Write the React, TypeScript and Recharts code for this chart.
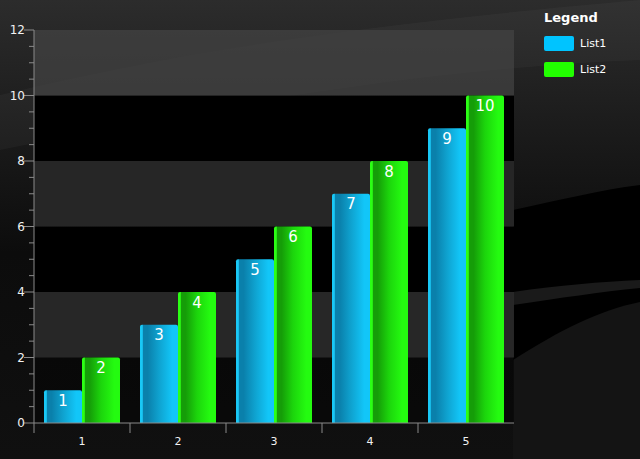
import React from 'react';
import { BarChart, Bar, XAxis, YAxis, ReferenceArea, LabelList } from 'recharts';

const categories = ['1', '2', '3', '4', '5'];
const list1 = [1, 3, 5, 7, 9];
const list2 = [2, 4, 6, 8, 10];
const yTicks = [0, 0.5, 1, 1.5, 2, 2.5, 3, 3.5, 4, 4.5, 5, 5.5, 6, 6.5, 7, 7.5, 8, 8.5, 9, 9.5, 10, 10.5, 11, 11.5, 12];
const bands = [
  { from: 0, to: 2, fill: '#050505', opacity: 0.6 },
  { from: 2, to: 4, fill: '#2a2a2a', opacity: 0.9 },
  { from: 4, to: 6, fill: '#000000', opacity: 1 },
  { from: 6, to: 8, fill: '#262626', opacity: 1 },
  { from: 8, to: 10, fill: '#000000', opacity: 1 },
  { from: 10, to: 12, fill: '#454545', opacity: 0.7 },
];
const seriesInfo = [
  { key: 'list1', name: 'List1', color: '#00c4ff', grad: 'blueCyl' },
  { key: 'list2', name: 'List2', color: '#22ff00', grad: 'greenCyl' },
];

const data = categories.map((c, i) => ({ name: c, list1: list1[i], list2: list2[i] }));

const W = 640;
const H = 459;
const MARGIN = { top: 30, right: 126, bottom: 0, left: 0 };
const Y_WIDTH = 34;
const X_HEIGHT = 36;
const bandWidth = (W - MARGIN.right - Y_WIDTH) / categories.length;
const FONT = '"DejaVu Sans", Verdana, sans-serif';

const YTick = (props: any) => {
  const { x, y, payload } = props;
  const major = payload.value % 2 === 0;
  return (
    <g>
      <line x1={x - (major ? 10 : 5)} x2={x} y1={y} y2={y} stroke="#8a8a8a" strokeWidth={1} />
      {major && (
        <text x={x - 9} y={y} dy={4} textAnchor="end" fill="#f2f2f2" fontSize={12} fontFamily={FONT}>
          {payload.value}
        </text>
      )}
    </g>
  );
};

const XTick = (props: any) => {
  const { x, y, payload } = props;
  return (
    <g>
      <line x1={x - bandWidth / 2} x2={x - bandWidth / 2} y1={y} y2={y + 10} stroke="#8a8a8a" />
      <text x={x} y={y + 22} textAnchor="middle" fill="#f2f2f2" fontSize={11} fontFamily={FONT}>
        {payload.value}
      </text>
    </g>
  );
};

const CylGrad = ({ id, light, mid, dark, edge }: { id: string; light: string; mid: string; dark: string; edge: string }) => (
  <linearGradient id={id} x1="0" y1="0" x2="1" y2="0">
    <stop offset="0%" stopColor={edge} />
    <stop offset="6%" stopColor={edge} />
    <stop offset="9%" stopColor={dark} />
    <stop offset="20%" stopColor={dark} />
    <stop offset="50%" stopColor={mid} />
    <stop offset="85%" stopColor={light} />
    <stop offset="100%" stopColor={light} />
  </linearGradient>
);

export default function App() {
  return (
    <div style={{ position: 'absolute', left: 0, top: 0, width: W, height: H, overflow: 'hidden', background: 'linear-gradient(180deg, #2c2c2c 0%, #1d1d1d 25%, #0c0c0c 55%, #101010 100%)' }}>
      <svg width={W} height={H} style={{ position: 'absolute', left: 0, top: 0 }}>
        <path d="M0,95 C150,60 300,30 640,0 L640,60 C400,70 200,110 0,150 Z" fill="#ffffff" opacity={0.03} />
        <path d="M513,210 C560,200 600,190 640,185 L640,459 L513,459 Z" fill="#000000" />
        <path d="M513,292 C560,285 600,282 640,280 L640,288 C600,292 560,298 513,305 Z" fill="#1a1a1a" />
        <path d="M513,360 C560,330 600,310 640,302 L640,459 L513,459 Z" fill="#141414" />
      </svg>
      <div style={{ position: 'absolute', left: 0, top: 0 }}>
        <BarChart width={W} height={H} data={data} margin={MARGIN} barCategoryGap={10} barGap={0}>
          <defs>
            <CylGrad id="blueCyl" edge="#19c8f6" dark="#0a80ab" mid="#0fa2cf" light="#12c6f8" />
            <CylGrad id="greenCyl" edge="#2bff14" dark="#159d08" mid="#1cd50c" light="#24fb10" />
          </defs>
          {bands.map((b) => (
            <ReferenceArea key={b.from} y1={b.from} y2={b.to} fill={b.fill} fillOpacity={b.opacity} stroke="none" ifOverflow="visible" />
          ))}
          <XAxis
            dataKey="name"
            height={X_HEIGHT}
            tickSize={0}
            tickMargin={0}
            tick={<XTick />}
            axisLine={{ stroke: '#8a8a8a' }}
            tickLine={false}
            interval={0}
          />
          <YAxis
            width={Y_WIDTH}
            domain={[0, 12]}
            ticks={yTicks}
            interval={0}
            tickSize={0}
            tickMargin={0}
            tick={<YTick />}
            axisLine={{ stroke: '#8a8a8a' }}
            tickLine={false}
          />
          {seriesInfo.map((s) => (
            <Bar key={s.key} dataKey={s.key} name={s.name} fill={`url(#${s.grad})`} radius={[2, 2, 0, 0]} isAnimationActive={false}>
              <LabelList dataKey={s.key} position="insideTop" offset={5} fill="#ffffff" fontSize={15} fontFamily={FONT} />
            </Bar>
          ))}
        </BarChart>
      </div>
      <div style={{ position: 'absolute', left: 544, top: 10, fontFamily: FONT, color: '#ffffff' }}>
        <div style={{ fontWeight: 'bold', fontSize: 13, lineHeight: '16px', marginBottom: 4 }}>Legend</div>
        {seriesInfo.map((s) => (
          <div key={s.key} style={{ display: 'flex', alignItems: 'center', height: 26 }}>
            <div style={{ width: 30, height: 15, background: s.color, borderRadius: 2, marginRight: 6 }} />
            <span style={{ fontSize: 11 }}>{s.name}</span>
          </div>
        ))}
      </div>
    </div>
  );
}
